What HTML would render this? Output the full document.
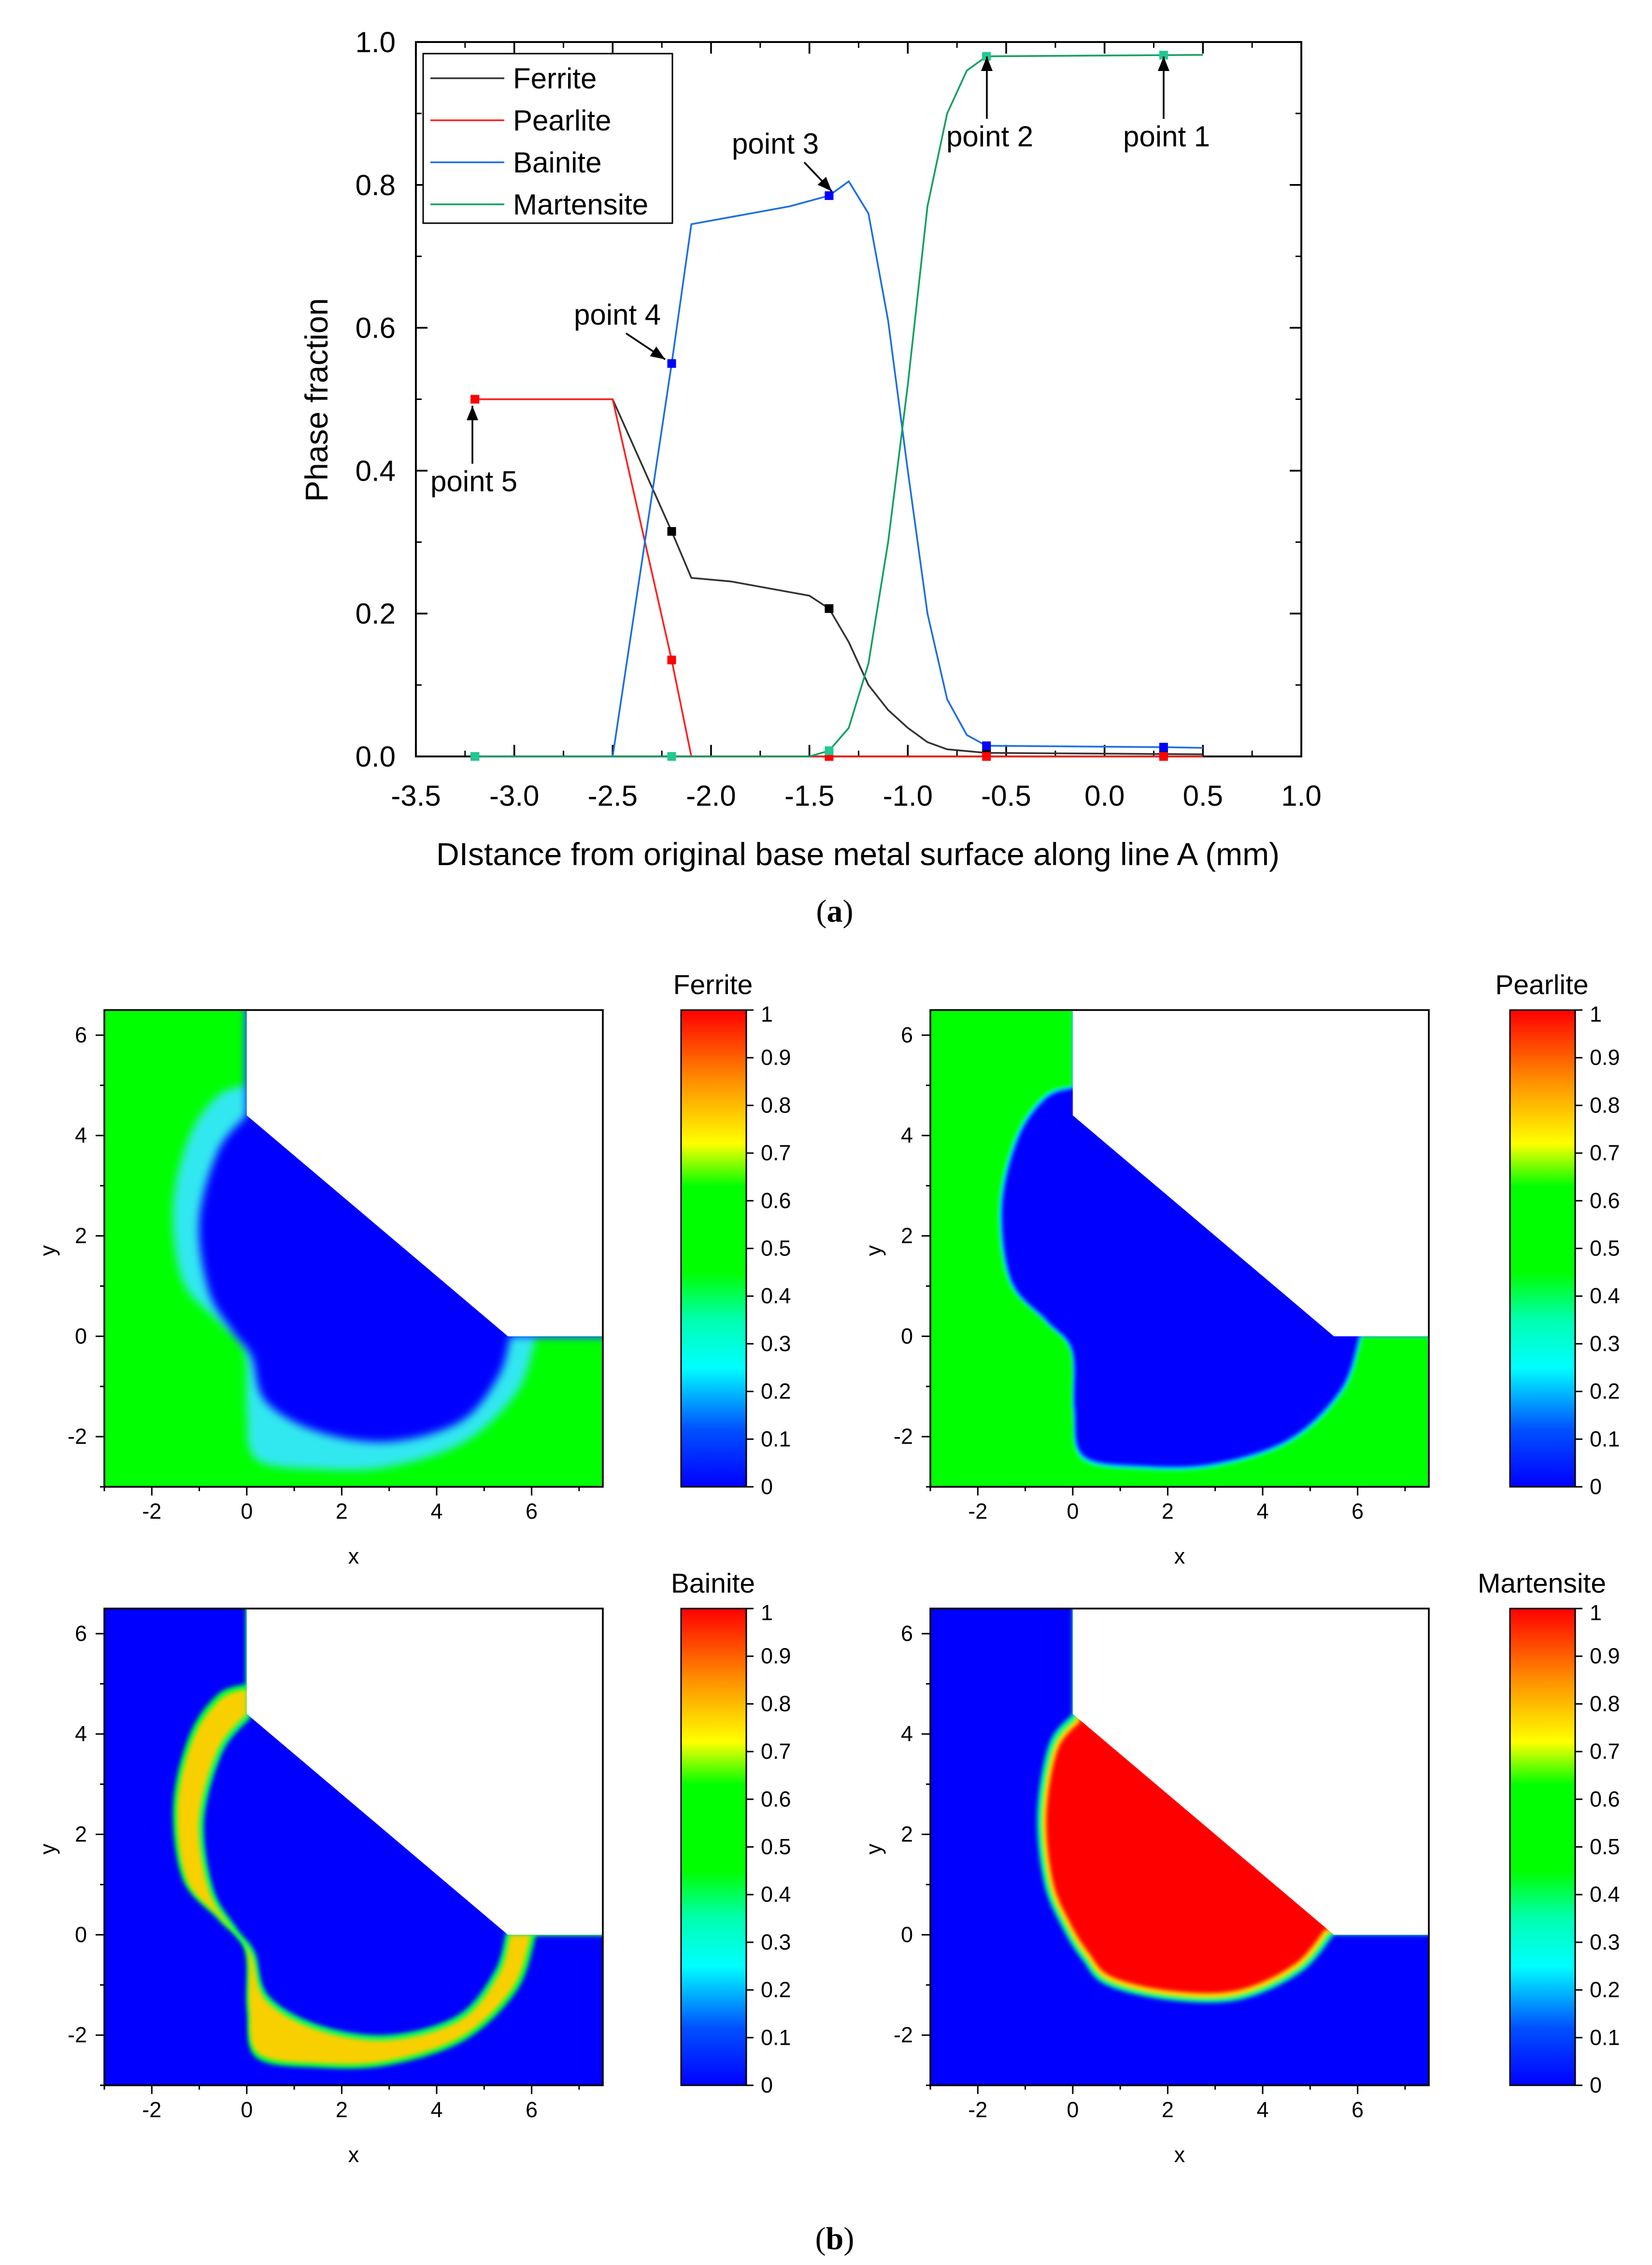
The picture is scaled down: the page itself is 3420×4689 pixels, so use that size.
<!DOCTYPE html>
<html><head><meta charset="utf-8"><style>
html,body{margin:0;padding:0;background:#fff;}
svg{display:block;font-family:"Liberation Sans",Arial,sans-serif;}
</style></head><body>
<svg id="root" width="3420" height="4689" viewBox="0 0 1140 1563" xmlns="http://www.w3.org/2000/svg">
<defs>
<linearGradient id="jet" x1="0" y1="1" x2="0" y2="0">
<stop offset="0" stop-color="#0000ff"/>
<stop offset="0.12" stop-color="#0050ff"/>
<stop offset="0.25" stop-color="#00ffff"/>
<stop offset="0.35" stop-color="#00ffb0"/>
<stop offset="0.45" stop-color="#00ff00"/>
<stop offset="0.63" stop-color="#00ff00"/>
<stop offset="0.72" stop-color="#ffff00"/>
<stop offset="0.85" stop-color="#ff9000"/>
<stop offset="1" stop-color="#ff0000"/>
</linearGradient>
<filter id="blur3" x="-20%" y="-20%" width="140%" height="140%"><feGaussianBlur stdDeviation="3"/></filter>
<filter id="blur1" x="-20%" y="-20%" width="140%" height="140%"><feGaussianBlur stdDeviation="1.5"/></filter>
</defs>
<g id="lineChart"></g>
<g id="maps"></g>
<text x="576" y="636" text-anchor="middle" font-family="Liberation Serif,serif" font-size="22">(<tspan font-weight="bold">a</tspan>)</text>
<text x="576" y="1552" text-anchor="middle" font-family="Liberation Serif,serif" font-size="22">(<tspan font-weight="bold">b</tspan>)</text>
</svg>
<script>
const NS="http://www.w3.org/2000/svg";
function el(tag,attrs,parent){const e=document.createElementNS(NS,tag);for(const k in attrs)e.setAttribute(k,attrs[k]);parent.appendChild(e);return e;}

// ---- chart data ----
const ferriteX=[-3.2,-2.5,-2.2,-2.1,-1.9,-1.5,-1.4,-1.3,-1.2,-1.1,-1.0,-0.9,-0.8,-0.6,0.5];
const ferriteY=[0.5,0.5,0.315,0.25,0.245,0.225,0.207,0.16,0.1,0.065,0.04,0.02,0.01,0.005,0.003];
const pearliteX=[-3.2,-2.5,-2.2,-2.1,0.5];
const pearliteY=[0.5,0.5,0.135,0.0,0.0];
const bainiteX=[-3.2,-2.5,-2.2,-2.1,-2.0,-1.8,-1.6,-1.4,-1.3,-1.2,-1.1,-1.0,-0.9,-0.8,-0.7,-0.6,0.3,0.5];
const bainiteY=[0,0,0.55,0.745,0.75,0.76,0.77,0.785,0.805,0.76,0.61,0.4,0.2,0.08,0.03,0.015,0.013,0.012];
const martX=[-3.2,-1.5,-1.4,-1.3,-1.2,-1.1,-1.0,-0.9,-0.8,-0.7,-0.6,0.5];
const martY=[0,0,0.008,0.04,0.13,0.3,0.52,0.77,0.9,0.96,0.98,0.982];
const markerX=[-3.2,-2.2,-1.4,-0.6,0.3];
const xTicks=[-3.5,-3.0,-2.5,-2.0,-1.5,-1.0,-0.5,0.0,0.5,1.0];
const yTicks=[0.0,0.2,0.4,0.6,0.8,1.0];

const L=287,R=898,T=29,B=522,XMIN=-3.5,XMAX=1.0;
const sx=x=>L+(x-XMIN)/(XMAX-XMIN)*(R-L);
const sy=y=>B-y*(B-T);
const lc=document.getElementById('lineChart');
el('rect',{x:L,y:T,width:R-L,height:B-T,fill:'none',stroke:'#000','stroke-width':1.3},lc);
xTicks.forEach(t=>{const X=sx(t);
 el('line',{x1:X,y1:B,x2:X,y2:B-8,stroke:'#000','stroke-width':1.2},lc);
 el('line',{x1:X,y1:T,x2:X,y2:T+8,stroke:'#000','stroke-width':1.2},lc);
 const tx=el('text',{x:X,y:B+34,'text-anchor':'middle','font-size':20},lc);tx.textContent=t.toFixed(1);
 });
for(let i=0;i<xTicks.length-1;i++){const X=sx((xTicks[i]+xTicks[i+1])/2);
 el('line',{x1:X,y1:B,x2:X,y2:B-4,stroke:'#000'},lc);el('line',{x1:X,y1:T,x2:X,y2:T+4,stroke:'#000'},lc);}
yTicks.forEach(t=>{const Y=sy(t);
 el('line',{x1:L,y1:Y,x2:L+8,y2:Y,stroke:'#000','stroke-width':1.2},lc);
 el('line',{x1:R,y1:Y,x2:R-8,y2:Y,stroke:'#000','stroke-width':1.2},lc);
 const tx=el('text',{x:L-14,y:Y+7,'text-anchor':'end','font-size':20},lc);tx.textContent=t.toFixed(1);
 });
for(let i=0;i<yTicks.length-1;i++){const Y=sy((yTicks[i]+yTicks[i+1])/2);
 el('line',{x1:L,y1:Y,x2:L+4,y2:Y,stroke:'#000'},lc);el('line',{x1:R,y1:Y,x2:R-4,y2:Y,stroke:'#000'},lc);}
let t=el('text',{x:592,y:597,'text-anchor':'middle','font-size':22},lc);t.textContent='DIstance from original base metal surface along line A (mm)';

t=el('text',{x:226,y:276,'text-anchor':'middle','font-size':22,transform:'rotate(-90 226 276)'},lc);t.textContent='Phase fraction';


function interp(xs,ys,x){for(let i=0;i<xs.length-1;i++){if(x>=xs[i]&&x<=xs[i+1]){const f=(x-xs[i])/(xs[i+1]-xs[i]);return ys[i]+f*(ys[i+1]-ys[i]);}}return ys[ys.length-1];}
const series=[['ferrite',ferriteX,ferriteY,'#333333','#000000'],['pearlite',pearliteX,pearliteY,'#ff2020','#ff0000'],['bainite',bainiteX,bainiteY,'#1e6fe0','#0000ff'],['martensite',martX,martY,'#10a060','#22c890']];
series.forEach(s=>{
 const p=el('polyline',{points:s[1].map((x,i)=>sx(x)+','+sy(s[2][i])).join(' '),fill:'none',stroke:s[3],'stroke-width':1.2},lc);
 
 markerX.forEach(mx=>{const m=el('rect',{x:sx(mx)-3,y:sy(interp(s[1],s[2],mx))-3,width:6,height:6,fill:s[4]},lc);
  });
});
// legend
const lg=el('g',{},lc);
el('rect',{x:292,y:37,width:172,height:117,fill:'#fff',stroke:'#000'},lg);
[['Ferrite','#333'],['Pearlite','#ff2020'],['Bainite','#1e6fe0'],['Martensite','#10a060']].forEach((e,i)=>{
 const y=54+i*29;el('line',{x1:297,y1:y,x2:348,y2:y,stroke:e[1],'stroke-width':1.2},lg);
 const tt=el('text',{x:354,y:y+7,'font-size':20},lg);tt.textContent=e[0];});
// annotations
const notes=[['point 1',775,101,803,82,803,39],['point 2',653,101,681,82,681,39],['point 3',505,106,555,112,574,132],['point 4',396,224,432,230,459,248],['point 5',297,339,326,320,326,280]];
notes.forEach(n=>{const a=el('g',{},lc);
 const tt=el('text',{x:n[1],y:n[2],'font-size':20},a);tt.textContent=n[0];
 el('line',{x1:n[3],y1:n[4],x2:n[5],y2:n[6],stroke:'#000','stroke-width':1.2},a);
 const ang=Math.atan2(n[6]-n[4],n[5]-n[3]),hx=n[5],hy=n[6],l=10,w=4;
 const bx=hx-l*Math.cos(ang),by=hy-l*Math.sin(ang);
 el('polygon',{points:`${hx},${hy} ${bx-w*Math.sin(ang)},${by+w*Math.cos(ang)} ${bx+w*Math.sin(ang)},${by-w*Math.cos(ang)}`,fill:'#000'},a);});

// ---- maps ----
const maps=document.getElementById('maps');
const panels=[
 {name:'ferrite',title:'Ferrite',x0:72,y0:697,cb:470,bg:'#00ff00'},
 {name:'pearlite',title:'Pearlite',x0:642,y0:697,cb:1042,bg:'#00ff00'},
 {name:'bainite',title:'Bainite',x0:72,y0:1110,cb:470,bg:'#0000ff'},
 {name:'martensite',title:'Martensite',x0:642,y0:1110,cb:1042,bg:'#0000ff'}];
const W=344,H=329;
const tail=[[7.6,0],[7.6,6.6],[0,6.6]];
const outer=[[0,5],[-0.6,4.8],[-1.2,4.0],[-1.55,2.6],[-1.35,1.1],[-0.6,0.3],[-0.05,-0.3],[0,-1.5],[0.2,-2.45],[1.5,-2.65],[3,-2.6],[4.6,-2.1],[5.7,-1.1],[6.1,0]];
const inner=[[0,4.4],[-0.6,3.7],[-1.0,2.3],[-0.8,0.9],[-0.3,0.1],[0.1,-0.4],[0.4,-1.3],[1.5,-1.9],[3,-2.1],[4.5,-1.7],[5.3,-0.8],[5.55,0]];
const mart=[[0,4.4],[-0.5,3.8],[-0.75,2.4],[-0.6,1.0],[-0.2,0.1],[0.2,-0.5],[0.7,-1.0],[2,-1.3],[3.5,-1.3],[4.8,-0.75],[5.5,0]];
const whiteP=[[0,6.6],[7.6,6.6],[7.6,0],[5.5,0],[0,4.4]];
function smoothPath(curve,px,py){
 const P=curve.map(q=>[px(q[0]),py(q[1])]);
 let d='M'+P[0][0]+','+P[0][1];
 for(let i=0;i<P.length-1;i++){
  const p0=P[Math.max(i-1,0)],p1=P[i],p2=P[i+1],p3=P[Math.min(i+2,P.length-1)];
  d+=` C${p1[0]+(p2[0]-p0[0])/6},${p1[1]+(p2[1]-p0[1])/6} ${p2[0]-(p3[0]-p1[0])/6},${p2[1]-(p3[1]-p1[1])/6} ${p2[0]},${p2[1]}`;
 }
 tail.forEach(q=>{d+=` L${px(q[0])},${py(q[1])}`;});
 return d+'Z';
}
panels.forEach((p,pi)=>{
 const g=el('g',{},maps);
 const px=x=>p.x0+(x+3)*(W/10.5), py=y=>p.y0+(6.5-y)*(H/9.5);
 const pts=a=>a.map(q=>px(q[0])+','+py(q[1])).join(' ');
 const cp=el('clipPath',{id:'cp'+pi},g);
 el('rect',{x:p.x0,y:p.y0,width:W,height:H},cp);
 const c=el('g',{'clip-path':'url(#cp'+pi+')'},g);
 el('rect',{x:p.x0,y:p.y0,width:W,height:H,fill:p.bg},c);
 const sc=(cx,cy,s)=>`translate(${px(cx)} ${py(cy)}) scale(${s}) translate(${-px(cx)} ${-py(cy)})`;
 if(p.name==='ferrite'){
  el('path',{d:smoothPath(outer,px,py),fill:'#30e8f0',filter:'url(#blur3)'},c);
  el('path',{d:smoothPath(inner,px,py),fill:'#0000ff',filter:'url(#blur3)'},c);
 }else if(p.name==='pearlite'){
  el('path',{d:smoothPath(outer,px,py),fill:'#00ffff',filter:'url(#blur1)'},c);
  el('path',{d:smoothPath(outer,px,py),fill:'#0000ff',transform:sc(2.5,1.5,0.985),filter:'url(#blur1)'},c);
 }else if(p.name==='bainite'){
  el('path',{d:smoothPath(outer,px,py),fill:'#00ff40',filter:'url(#blur1)'},c);
  el('path',{d:smoothPath(outer,px,py),fill:'#f8d000',transform:sc(2,1,0.975),filter:'url(#blur1)'},c);
  el('path',{d:smoothPath(inner,px,py),fill:'#00ff60',filter:'url(#blur1)'},c);
  el('path',{d:smoothPath(inner,px,py),fill:'#0000ff',transform:sc(2.5,1.5,0.97),filter:'url(#blur1)'},c);
 }else{
  el('path',{d:smoothPath(mart,px,py),fill:'#00ffa0',filter:'url(#blur1)'},c);
  el('path',{d:smoothPath(mart,px,py),fill:'#ffe000',transform:sc(2.5,1.5,0.97),filter:'url(#blur1)'},c);
  el('path',{d:smoothPath(mart,px,py),fill:'#ff0000',transform:sc(2.5,1.8,0.94),filter:'url(#blur1)'},c);
 }
 el('polygon',{points:pts(whiteP),fill:'#fff'},c);
 el('rect',{x:p.x0,y:p.y0,width:W,height:H,fill:'none',stroke:'#000','stroke-width':1.2},g);
 [-2,0,2,4,6].forEach(v=>{
  el('line',{x1:px(v),y1:p.y0+H,x2:px(v),y2:p.y0+H+6,stroke:'#000'},g);
  const a=el('text',{x:px(v),y:p.y0+H+22,'text-anchor':'middle','font-size':15},g);a.textContent=v;
  el('line',{x1:p.x0,y1:py(v),x2:p.x0-6,y2:py(v),stroke:'#000'},g);
  const b=el('text',{x:p.x0-12,y:py(v)+5,'text-anchor':'end','font-size':15},g);b.textContent=v;
 });
 [-3,-1,1,3,5,7].forEach(v=>el('line',{x1:px(v),y1:p.y0+H,x2:px(v),y2:p.y0+H+3,stroke:'#000'},g));
 [-3,-1,1,3,5].forEach(v=>el('line',{x1:p.x0,y1:py(v),x2:p.x0-3,y2:py(v),stroke:'#000'},g));
 let a=el('text',{x:p.x0+172,y:p.y0+H+53,'text-anchor':'middle','font-size':15},g);a.textContent='x';
 a=el('text',{x:p.x0-34,y:p.y0+166,'text-anchor':'middle','font-size':15,transform:`rotate(-90 ${p.x0-34} ${p.y0+166})`},g);a.textContent='y';
 const cb=el('g',{},g);
 el('rect',{x:p.cb,y:p.y0,width:45,height:H,fill:'url(#jet)',stroke:'#000'},cb);
 for(let i=0;i<=10;i++){const Y=p.y0+H-i*H/10+(i===10?3:0);
  el('line',{x1:p.cb+45,y1:p.y0+H-i*H/10,x2:p.cb+50,y2:p.y0+H-i*H/10,stroke:'#000'},cb);
  const tt=el('text',{x:p.cb+55,y:Y+5,'font-size':15},cb);tt.textContent=i===0?'0':(i===10?'1':(i/10).toFixed(1));
  }
 a=el('text',{x:p.cb+22,y:p.y0-11,'text-anchor':'middle','font-size':19},g);a.textContent=p.title;
});
</script>
</body></html>
